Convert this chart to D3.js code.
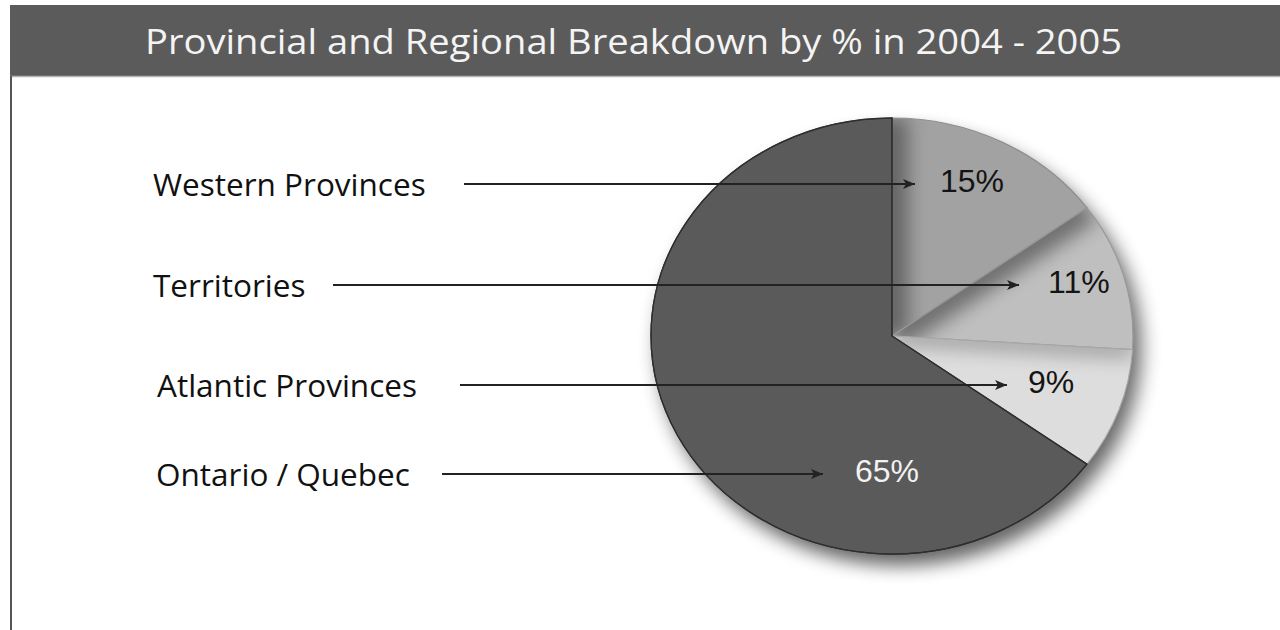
<!DOCTYPE html>
<html>
<head>
<meta charset="utf-8">
<script src="https://cdn.jsdelivr.net/npm/d3@7"></script>
<style>
  body { margin: 0; background: #fff; }
  svg { display: block; }
</style>
</head>
<body>
<svg id="pie-chart"></svg>
<script>
// ----- Data
const regions = ["Western Provinces", "Territories", "Atlantic Provinces", "Ontario / Quebec"];
const shares = [15, 11, 9, 65];
const share_labels = ["15%", "11%", "9%", "65%"];
const chart_title = "Provincial and Regional Breakdown by % in 2004 - 2005";

// ----- Styles
const slice_colors = ["#a2a2a2", "#bfbfbf", "#dddddd", "#5a5a5a"];
const slice_strokes = ["#8c8c8c", "#999999", "#a8a8a8", "#2e2e2e"];
const share_colors = ["#141414", "#141414", "#141414", "#f2f2f2"];

// ----- Layout (annotation positions)
const width = 1280, height = 630;
const pie_cx = 892, pie_cy = 336, pie_rx = 241, pie_ry = 218;
const row_y = [184, 285, 385, 474];
const label_x = [153, 153, 157, 156];
const arrow_x0 = [464, 333, 460, 442];
const arrow_x1 = [915, 1019, 1007, 823];
const share_x = [940, 1048, 1028, 855];

const svg = d3.select("#pie-chart")
    .attr("width", width)
    .attr("height", height);

const defs = svg.append("defs");

// Soft shadow under the whole pie
defs.append("filter")
    .attr("id", "outer-shadow")
    .attr("x", "-20%").attr("y", "-20%")
    .attr("width", "140%").attr("height", "140%")
    .append("feGaussianBlur")
    .attr("stdDeviation", 10);

// Blur used for the shadow bands inside the slices (user space, since a vertical line has no bbox width)
defs.append("filter")
    .attr("id", "inner-blur")
    .attr("filterUnits", "userSpaceOnUse")
    .attr("x", -300).attr("y", -300)
    .attr("width", 600).attr("height", 600)
    .append("feGaussianBlur")
    .attr("stdDeviation", 10);

// Arrow head
defs.append("marker")
    .attr("id", "arrow-head")
    .attr("markerUnits", "userSpaceOnUse")
    .attr("viewBox", "0 0 12 10")
    .attr("refX", 12).attr("refY", 5)
    .attr("markerWidth", 12).attr("markerHeight", 10)
    .attr("orient", "auto")
    .append("path")
    .attr("d", "M0,0 L12,5 L0,10 L3,5 Z")
    .attr("fill", "#222");

// ----- Title bar and frame
svg.append("rect")
    .attr("x", 10).attr("y", 5)
    .attr("width", width - 10).attr("height", 71)
    .attr("fill", "#5b5b5b");
svg.append("line")
    .attr("x1", 10).attr("x2", width)
    .attr("y1", 76.5).attr("y2", 76.5)
    .attr("stroke", "#b4b4b4").attr("stroke-width", 1.5);
svg.append("line")
    .attr("x1", 11).attr("x2", 11)
    .attr("y1", 76).attr("y2", height)
    .attr("stroke", "#555").attr("stroke-width", 2);

svg.append("text")
    .attr("x", 145).attr("y", 54)
    .attr("textLength", 977)
    .attr("lengthAdjust", "spacingAndGlyphs")
    .style("font-family", "'Open Sans', sans-serif")
    .style("font-size", "35px")
    .attr("fill", "#f4f4f4")
    .text(chart_title);

// ----- Pie
const pie = d3.pie().sort(null).value(d => d);
const arcs = pie(shares);
const arc = d3.arc().innerRadius(0).outerRadius(pie_rx);

const pie_g = svg.append("g")
    .attr("transform", `translate(${pie_cx}, ${pie_cy}) scale(1, ${pie_ry / pie_rx})`);

// outer shadow
pie_g.append("circle")
    .attr("cx", 8).attr("cy", 13)
    .attr("r", pie_rx)
    .attr("fill", "#000")
    .attr("opacity", 0.6)
    .attr("filter", "url(#outer-shadow)");

// clip paths for each slice
arcs.forEach((a, i) => {
    defs.append("clipPath")
        .attr("id", "slice-clip-" + i)
        .append("path")
        .attr("d", arc(a));
});

const slices = pie_g.selectAll("g.slice")
    .data(arcs)
    .join("g")
    .attr("class", "slice");

slices.append("path")
    .attr("d", arc)
    .attr("fill", (d, i) => slice_colors[i]);

// shadow band along the leading edge of the light slices
slices.filter((d, i) => i < 3)
    .append("g")
    .attr("clip-path", (d, i) => `url(#slice-clip-${i})`)
    .append("line")
    .attr("x1", 0).attr("y1", 0)
    .attr("x2", d => pie_rx * Math.sin(d.startAngle))
    .attr("y2", d => -pie_rx * Math.cos(d.startAngle))
    .attr("stroke", "#000")
    .attr("stroke-width", (d, i) => [30, 34, 22][i])
    .attr("opacity", (d, i) => [0.4, 0.42, 0.25][i])
    .attr("filter", "url(#inner-blur)");

slices.append("path")
    .attr("d", arc)
    .attr("fill", "none")
    .attr("stroke", (d, i) => slice_strokes[i])
    .attr("stroke-width", 1.2)
    .attr("vector-effect", "non-scaling-stroke");

// redraw the dark slice outline on top
pie_g.append("path")
    .attr("d", arc(arcs[3]))
    .attr("fill", "none")
    .attr("stroke", slice_strokes[3])
    .attr("stroke-width", 1.3)
    .attr("vector-effect", "non-scaling-stroke");

// ----- Labels and arrows
const rows = svg.append("g")
    .selectAll("g")
    .data(regions)
    .join("g");

rows.append("text")
    .attr("x", (d, i) => label_x[i])
    .attr("y", (d, i) => row_y[i] + 12)
    .style("font-family", "'Open Sans', sans-serif")
    .style("font-size", "31.5px")
    .attr("fill", "#111")
    .text(d => d);

rows.append("line")
    .attr("x1", (d, i) => arrow_x0[i])
    .attr("x2", (d, i) => arrow_x1[i])
    .attr("y1", (d, i) => row_y[i])
    .attr("y2", (d, i) => row_y[i])
    .attr("stroke", "#222")
    .attr("stroke-width", 1.8)
    .attr("marker-end", "url(#arrow-head)");

rows.append("text")
    .attr("x", (d, i) => share_x[i])
    .attr("y", (d, i) => row_y[i] + 8)
    .style("font-family", "'Liberation Sans', Arial, sans-serif")
    .style("font-size", "32px")
    .attr("fill", (d, i) => share_colors[i])
    .text((d, i) => share_labels[i]);
</script>
</body>
</html>
